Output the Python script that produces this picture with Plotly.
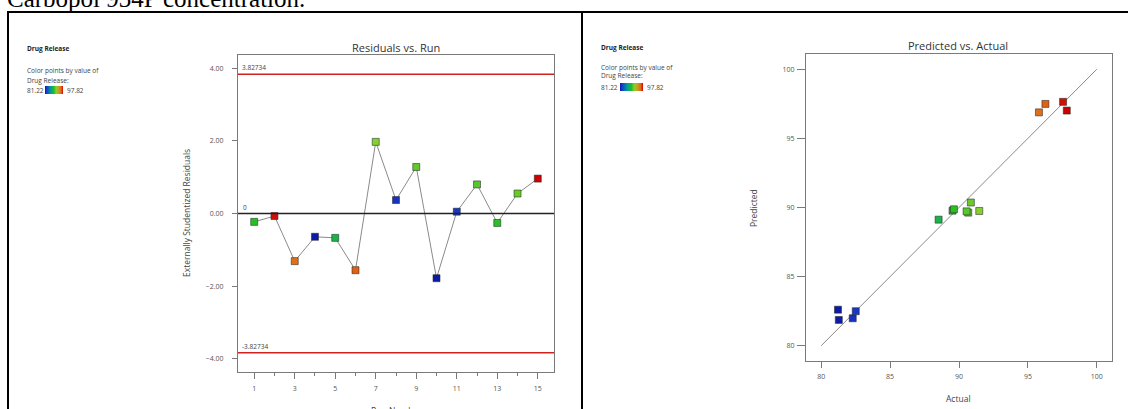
import plotly.graph_objects as go

W, H = 1128, 409

# Run order and response data
runs = list(range(1, 16))
residuals = [-0.23, -0.07, -1.31, -0.64, -0.67, -1.56, 1.97, 0.37, 1.28, -1.78, 0.05, 0.80, -0.26, 0.55, 0.96]
actual = [89.53, 97.55, 95.80, 81.28, 88.52, 96.27, 91.47, 82.29, 90.67, 81.22, 82.51, 90.55, 89.63, 90.86, 97.82]
predicted = [89.77, 97.64, 96.88, 81.87, 89.12, 97.49, 89.75, 81.99, 89.63, 82.61, 82.50, 89.72, 89.87, 90.36, 97.01]
limit = 3.82734
release_min, release_max = 81.22, 97.82
diag = [80, 100]

FONT = "Open Sans"
scale = [[0.0, "#0c1aa8"], [0.08, "#1838c4"], [0.3, "#0098a0"], [0.5, "#22c022"],
         [0.62, "#88d030"], [0.75, "#c8a020"], [0.9, "#e06818"], [1.0, "#cc0000"]]


def X(px):
    return px / W


def Y(py):
    return 1 - py / H


def marker(cb_x, cb_y, cb_len):
    return dict(
        symbol="square", size=7, color=actual, colorscale=scale,
        cmin=release_min, cmax=release_max,
        line=dict(color="rgba(40,40,40,0.55)", width=1),
        showscale=True,
        colorbar=dict(orientation="h", x=X(cb_x), y=Y(cb_y), xanchor="left", yanchor="top",
                      lenmode="pixels", len=cb_len, thickness=8, thicknessmode="pixels",
                      xpad=0, ypad=0, outlinewidth=0, showticklabels=False, ticks=""),
    )


fig = go.Figure()

# Residuals vs. Run
fig.add_trace(go.Scatter(x=runs, y=residuals, mode="lines", line=dict(color="#8a8a8a", width=1),
                         xaxis="x", yaxis="y", showlegend=False, hoverinfo="skip"))
fig.add_trace(go.Scatter(x=runs, y=residuals, mode="markers", marker=marker(45, 86, 18),
                         xaxis="x", yaxis="y", showlegend=False))

# Predicted vs. Actual
fig.add_trace(go.Scatter(x=diag, y=diag, mode="lines", line=dict(color="#8a8a8a", width=1),
                         xaxis="x2", yaxis="y2", showlegend=False, hoverinfo="skip"))
fig.add_trace(go.Scatter(x=actual, y=predicted, mode="markers", marker=marker(620, 83, 23),
                         xaxis="x2", yaxis="y2", showlegend=False))

tickfont = dict(family=FONT, size=7, color="#555555")
box = dict(showline=True, linecolor="#7a7a7a", linewidth=1, mirror=True, showgrid=False,
           zeroline=False, tickfont=tickfont, ticks="outside", tickcolor="#7a7a7a")

fig.update_layout(
    width=W, height=H, margin=dict(l=0, r=0, t=0, b=0),
    paper_bgcolor="white", plot_bgcolor="white",
    xaxis=dict(domain=[X(238), X(554)], range=[0.2, 15.8], tick0=1, dtick=2, ticklen=6,
               ticklabelstandoff=4, anchor="y",
               minor=dict(dtick=1, ticklen=3, ticks="outside", tickcolor="#7a7a7a"), **box),
    yaxis=dict(domain=[Y(372), Y(55)], range=[-4.36, 4.36], tickvals=[-4, -2, 0, 2, 4],
               tickformat=".2f", ticklen=5, ticklabelstandoff=7, anchor="x", **box),
    xaxis2=dict(domain=[X(806), X(1112)], range=[78.9, 101.1], dtick=5, ticklen=6,
                ticklabelstandoff=3, anchor="y2", **box),
    yaxis2=dict(domain=[Y(361), Y(54)], range=[78.9, 101.1], dtick=5, ticklen=8,
                ticklabelstandoff=1, anchor="x2", **box),
)

# Reference lines on the residual plot
for v in (limit, -limit):
    fig.add_shape(type="line", xref="x domain", yref="y", x0=0, x1=1, y0=v, y1=v,
                  line=dict(color="#d02020", width=1.5))
fig.add_shape(type="line", xref="x domain", yref="y", x0=0, x1=1, y0=0, y1=0,
              line=dict(color="#222222", width=1.5))

# Table borders
border = dict(color="black", width=2)
fig.add_shape(type="line", xref="paper", yref="paper", x0=X(7), x1=1, y0=Y(12), y1=Y(12), line=border)
fig.add_shape(type="line", xref="paper", yref="paper", x0=X(8), x1=X(8), y0=0, y1=Y(12), line=border)
fig.add_shape(type="line", xref="paper", yref="paper", x0=X(582), x1=X(582), y0=0, y1=Y(12), line=border)

ann = []


def text(t, x, y, size=7, color="#444444", xanchor="left", yanchor="middle", angle=0, family=FONT, xref="paper", yref="paper"):
    ann.append(dict(text=t, x=x, y=y, xref=xref, yref=yref, showarrow=False, xanchor=xanchor,
                    yanchor=yanchor, textangle=angle, font=dict(family=family, size=size, color=color)))


# Caption line above the table
text("Carbopol 934P concentration.", X(5), Y(14), size=25, color="black", yanchor="bottom",
     family="Liberation Serif")

# Legend blocks
for x0, ys, bar_end in ((25, (49, 71, 81, 90), 65), (599, (48, 67, 76, 87), 645)):
    text("<b>Drug Release</b>", X(x0), Y(ys[0]), size=6.5, color="#222222")
    text("Color points by value of", X(x0), Y(ys[1]), size=6.5)
    text("Drug Release:", X(x0), Y(ys[2]), size=6.5)
    text(f"{release_min:.2f}", X(x0), Y(ys[3]), size=6.5)
    text(f"{release_max:.2f}", X(bar_end), Y(ys[3]), size=6.5)

# Titles
text("Residuals vs. Run", X(396), Y(47), size=11, color="#333333", xanchor="center")
text("Predicted vs. Actual", X(958), Y(46), size=11, color="#333333", xanchor="center")

# Axis titles
text("Externally Studentized Residuals", X(186), Y(213), size=8.5, xanchor="center", angle=-90)
text("Run Number", X(396), Y(411), size=8.5, xanchor="center")
text("Predicted", X(753), Y(208), size=8.5, xanchor="center", angle=-90)
text("Actual", X(958), Y(398), size=8.5, xanchor="center")

# Limit labels
text(f"{limit:g}", 0.005, limit, size=6.5, xref="x domain", yref="y", yanchor="bottom")
text(f"{-limit:g}", 0.005, -limit, size=6.5, xref="x domain", yref="y", yanchor="bottom")
text("0", 0.01, 0, size=6.5, xref="x domain", yref="y", yanchor="bottom")

fig.update_layout(annotations=ann)
fig.write_html("out.html")
